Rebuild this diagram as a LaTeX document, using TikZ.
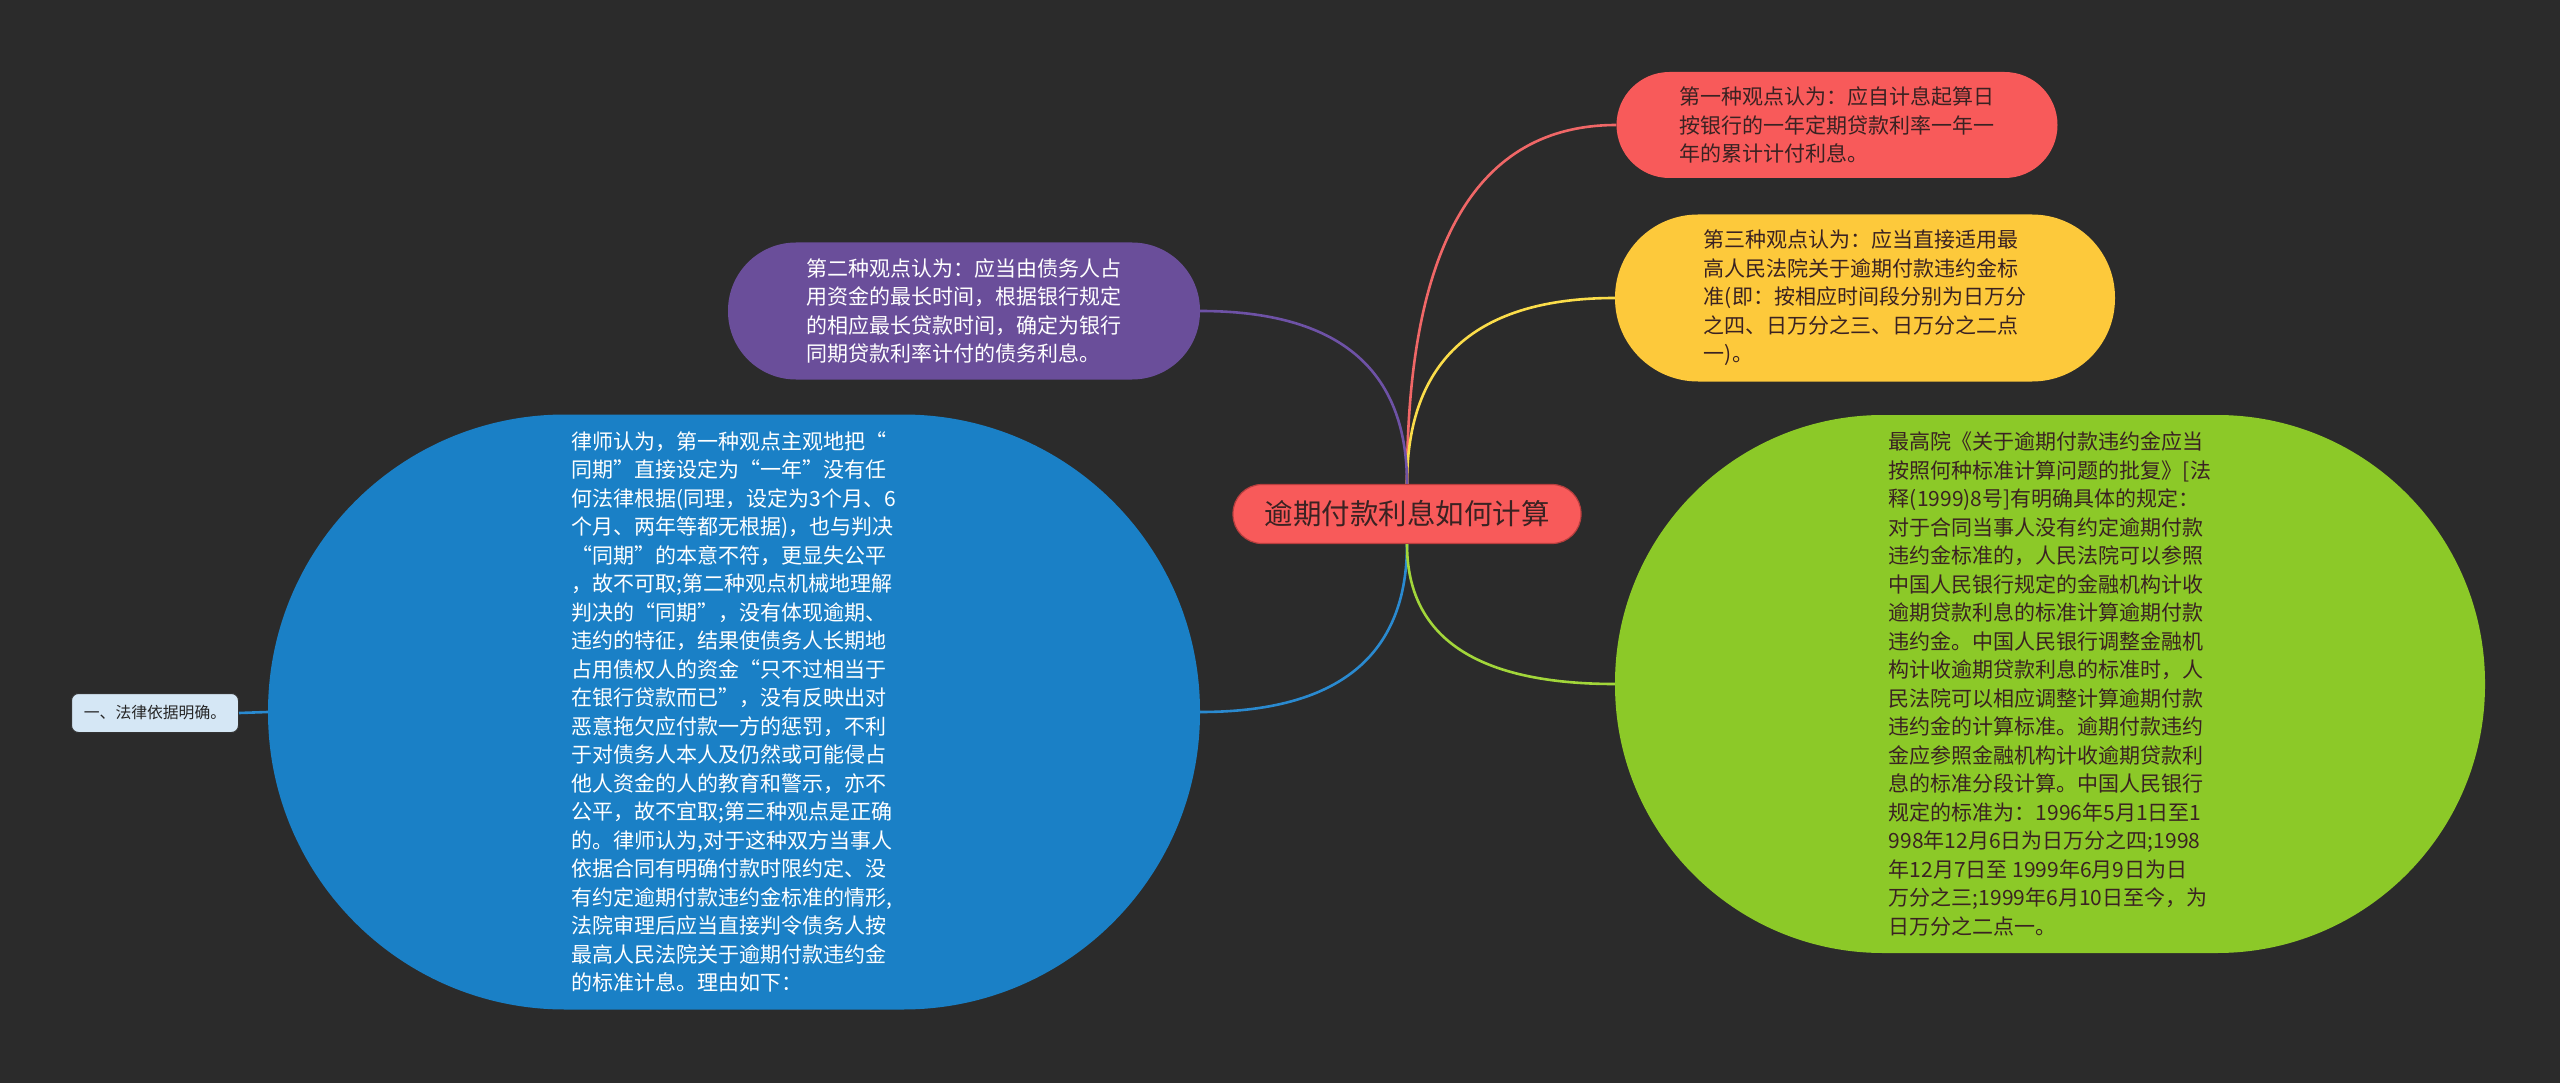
\documentclass[tikz,border=0pt]{standalone}
\usepackage{fontspec}
\setmainfont{Noto Sans CJK SC}
\usetikzlibrary{calc}
\definecolor{bgdark}{HTML}{2B2B2B}
\definecolor{rootfill}{HTML}{F85A5A}
\definecolor{rootline}{HTML}{B83E3E}
\definecolor{redfill}{HTML}{F85A5A}
\definecolor{redline}{HTML}{F06767}
\definecolor{yellowfill}{HTML}{FDC93B}
\definecolor{yellowline}{HTML}{FBDD4A}
\definecolor{purplefill}{HTML}{6A4E9A}
\definecolor{purpleline}{HTML}{6E52A6}
\definecolor{bluefill}{HTML}{1A80C6}
\definecolor{blueline}{HTML}{2A8AD0}
\definecolor{greenfill}{HTML}{8CC928}
\definecolor{greenline}{HTML}{A2D63A}
\definecolor{tipfill}{HTML}{D5E7F5}
\definecolor{darktext}{HTML}{3A2222}
\newcommand{\rootfont}{\fontsize{28.5}{34}\selectfont}
\newcommand{\leaffont}{\fontsize{21}{28.5}\selectfont}
\newcommand{\tipfont}{\fontsize{15.8}{20}\selectfont}
% curved branch: quadratic bend from the root to a topic
\newcommand{\mapbranch}[3]{
	\draw [#1] (#2) .. controls ($(#2)!2/3!(#2|-#3)$) and ($(#3)!2/3!(#2|-#3)$) .. (#3);}

\begin{document}
\begin{tikzpicture}[x=1pt,y=-1pt,
	leaf/.style={inner sep=0pt, align=left, font=\leaffont},
	branchline/.style={line width=2.6pt}]
	\fill [bgdark] (0,0) rectangle (2560,1083);
	\useasboundingbox (0,0) rectangle (2560,1083);

	\node [fill=rootfill, draw=rootline, line width=1.2pt, text=darktext, font=\rootfont,
		minimum width=348pt, minimum height=59pt, rounded corners=29pt, inner sep=0pt] (root) at (1407,514) {逾期付款利息如何计算};

	\node [leaf, fill=redfill, text=darktext, minimum width=441pt, minimum height=106pt, rounded corners=53pt] (view1) at (1837,125)
		{第一种观点认为：应自计息起算日\\按银行的一年定期贷款利率一年一\\年的累计计付利息。};
	\node [leaf, fill=yellowfill, text=darktext, minimum width=500pt, minimum height=167pt, rounded corners=83pt] (view3) at (1865,298)
		{第三种观点认为：应当直接适用最\\高人民法院关于逾期付款违约金标\\准(即：按相应时间段分别为日万分\\之四、日万分之三、日万分之二点\\一)。};
	\node [leaf, fill=purplefill, text=white, minimum width=472pt, minimum height=137pt, rounded corners=68pt] (view2) at (964,311)
		{第二种观点认为：应当由债务人占\\用资金的最长时间，根据银行规定\\的相应最长贷款时间，确定为银行\\同期贷款利率计付的债务利息。};
	\node [leaf, fill=bluefill, text=white, minimum width=932pt, minimum height=595pt, rounded corners=297pt] (lawyer) at (734,712)
		{律师认为，第一种观点主观地把“\\同期”直接设定为“一年”没有任\\何法律根据(同理，设定为3个月、6\\个月、两年等都无根据)，也与判决\\“同期”的本意不符，更显失公平\\，故不可取;第二种观点机械地理解\\判决的“同期”，没有体现逾期、\\违约的特征，结果使债务人长期地\\占用债权人的资金“只不过相当于\\在银行贷款而已”，没有反映出对\\恶意拖欠应付款一方的惩罚，不利\\于对债务人本人及仍然或可能侵占\\他人资金的人的教育和警示，亦不\\公平，故不宜取;第三种观点是正确\\的。律师认为,对于这种双方当事人\\依据合同有明确付款时限约定、没\\有约定逾期付款违约金标准的情形,\\法院审理后应当直接判令债务人按\\最高人民法院关于逾期付款违约金\\的标准计息。理由如下：};
	\node [leaf, fill=greenfill, text=darktext, minimum width=870pt, minimum height=538pt, rounded corners=268pt] (court) at (2050,684)
		{最高院《关于逾期付款违约金应当\\按照何种标准计算问题的批复》[法\\释(1999)8号]有明确具体的规定：\\对于合同当事人没有约定逾期付款\\违约金标准的，人民法院可以参照\\中国人民银行规定的金融机构计收\\逾期贷款利息的标准计算逾期付款\\违约金。中国人民银行调整金融机\\构计收逾期贷款利息的标准时，人\\民法院可以相应调整计算逾期付款\\违约金的计算标准。逾期付款违约\\金应参照金融机构计收逾期贷款利\\息的标准分段计算。中国人民银行\\规定的标准为：1996年5月1日至1\\998年12月6日为日万分之四;1998\\年12月7日至 1999年6月9日为日\\万分之三;1999年6月10日至今，为\\日万分之二点一。};
	\node [fill=tipfill, draw=black!80, line width=1pt, font=\tipfont, text=black!85,
		minimum width=167pt, minimum height=39pt, rounded corners=7pt, inner sep=0pt] (reason) at (155,713) {一、法律依据明确。};

	\mapbranch{branchline, redline}{root.north}{view1.west}
	\mapbranch{branchline, yellowline}{root.north}{view3.west}
	\mapbranch{branchline, purpleline}{root.north}{view2.east}
	\mapbranch{branchline, blueline}{root.south}{lawyer.east}
	\mapbranch{branchline, greenline}{root.south}{court.west}
	\draw [branchline, blueline] (lawyer.west) -- (reason.east);
\end{tikzpicture}
\end{document}
